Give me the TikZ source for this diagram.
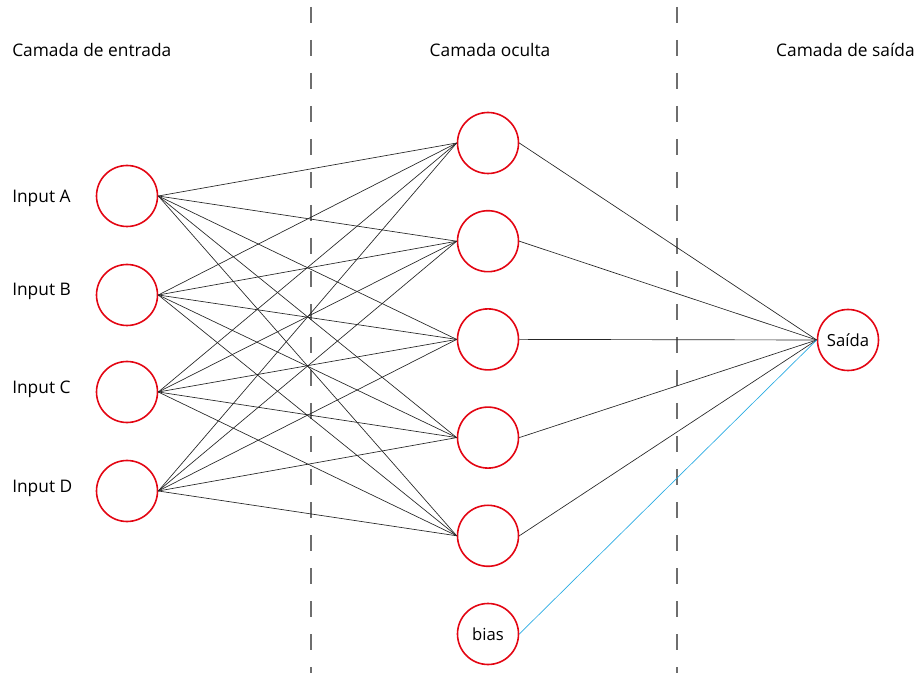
\documentclass[tikz,border=0pt]{standalone}
\usepackage{fontspec}
\setmainfont{Open Sans}
\usetikzlibrary{positioning}
\definecolor{neuronred}{HTML}{E30613}
\definecolor{biasblue}{HTML}{29ABE2}
\definecolor{dividergray}{HTML}{6E6E6E}

\begin{document}
\begin{tikzpicture}[
            x=0.75pt, y=-0.75pt,
            node distance=26.7pt,
            neuron/.style={circle, draw=neuronred, line width=1.2pt, minimum size=45.75pt, inner sep=0pt, font=\fontsize{12.5}{14}\selectfont},
            layertitle/.style={font=\fontsize{13}{15}\selectfont, inner sep=0pt},
            inputlabel/.style={font=\fontsize{13}{15}\selectfont, inner sep=0pt, anchor=west},
            weight/.style={line width=0.5pt, black!85},
            divider/.style={line width=1.4pt, dividergray, dash pattern=on 12pt off 12.75pt}
        ]
        \useasboundingbox (0,0) rectangle (921,673);

        % Input layer
        \node[neuron] (inA) at (127,196) {};
        \node[neuron, below=27.3pt of inA] (inB) {};
        \node[neuron, below=25.8pt of inB] (inC) {};
        \node[neuron, below=27.3pt of inC] (inD) {};

        % Hidden layer
        \node[neuron] (hid1) at (488,143) {};
        \node[neuron, below=of hid1] (hid2) {};
        \node[neuron, below=of hid2] (hid3) {};
        \node[neuron, below=of hid3] (hid4) {};
        \node[neuron, below=of hid4] (hid5) {};
        \node[neuron, below=of hid5] (bias) {bias};

        % Output layer
        \node[neuron] (out) at (848,340) {Saída};

        % Labels
        \node[layertitle, anchor=west] (titleIn) at (12,50) {Camada de entrada};
        \node[layertitle] (titleHid) at (490,50) {Camada oculta};
        \node[layertitle, anchor=east] (titleOut) at (915,50) {Camada de saída};
        \node[inputlabel] (labA) at (12,198) {Input A};
        \node[inputlabel] (labB) at (12,291) {Input B};
        \node[inputlabel] (labC) at (12,389) {Input C};
        \node[inputlabel] (labD) at (12,488) {Input D};

        % Dividers
        \coordinate (divAtop) at (311,7);
        \coordinate (divAbot) at (311,673);
        \coordinate (divBtop) at (677,7);
        \coordinate (divBbot) at (677,673);
        \draw[divider] (divAtop) -- (divAbot);
        \draw[divider] (divBtop) -- (divBbot);

        % Weights
        \foreach \i in {inA,inB,inC,inD}
            \foreach \h in {hid1,hid2,hid3,hid4,hid5}
                \draw[weight] (\i.east) -- (\h.west);
        \foreach \h in {hid1,hid2,hid3,hid4,hid5}
            \draw[weight] (\h.east) -- (out.west);
        \draw[line width=0.5pt, biasblue] (bias.east) -- (out.west);

        \end{tikzpicture}
\end{document}
